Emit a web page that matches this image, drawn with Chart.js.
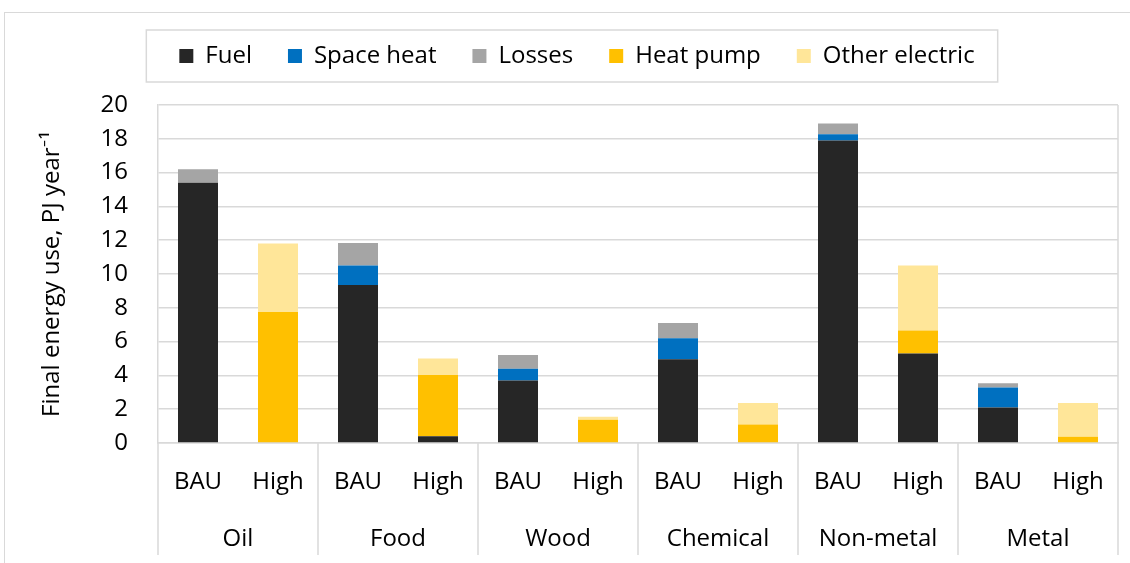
<!DOCTYPE html>
<html>
<head>
<meta charset="utf-8">
<script src="https://cdn.jsdelivr.net/npm/chart.js@4"></script>
<style>
html, body { margin: 0; padding: 0; background: #fff; }
#frame { position: absolute; left: 4px; top: 12px; width: 1140px; height: 570px; border-top: 1.5px solid #d9d9d9; border-left: 1.5px solid #d9d9d9; }
#wrap { position: absolute; left: 0; top: 0; width: 1130px; height: 563px; }
</style>
</head>
<body>
<div id="frame"></div>
<div id="wrap"><canvas id="energyChart"></canvas></div>
<script>
// data (PJ / year)
const sectors = ['Oil', 'Food', 'Wood', 'Chemical', 'Non-metal', 'Metal'];
const scenarios = ['BAU', 'High'];
const fuel          = [15.4, 0,    9.35, 0.4,  3.7, 0,    4.95, 0,    17.9, 5.3,  2.1,  0];
const spaceHeat     = [0,    0,    1.15, 0,    0.7, 0,    1.25, 0,    0.37, 0,    1.18, 0];
const losses        = [0.8,  0,    1.33, 0,    0.8, 0,    0.9,  0,    0.63, 0,    0.25, 0];
const heatPump      = [0,    7.75, 0,    3.62, 0,   1.38, 0,    1.1,  0,    1.35, 0,    0.37];
const otherElectric = [0,    4.05, 0,    0.98, 0,   0.17, 0,    1.26, 0,    3.85, 0,    2.0];
const yMax = 20;
const yStep = 2;

const labels = sectors.flatMap(() => scenarios);
const font = '"Open Sans", Lato, sans-serif';
const fontSize = 24;
const gridColor = '#d9d9d9';

// second row of category labels + separators, and the box round the legend
const groupAxis = {
    id: 'groupAxis',
    beforeLayout(chart) {
        // extra room under the legend row
        const lg = chart.legend;
        if (lg && !lg._padded) {
            const fit = lg.fit.bind(lg);
            lg.fit = function () { fit(); this.height += 27; };
            lg._padded = true;
        }
    },
    afterDraw(chart) {
        const { ctx, chartArea, scales: { x } } = chart;
        const half = (x.getPixelForValue(1) - x.getPixelForValue(0)) / 2;
        ctx.save();
        ctx.strokeStyle = gridColor;
        ctx.lineWidth = 1.5;
        ctx.beginPath();
        ctx.moveTo(chartArea.right, chartArea.top);
        ctx.lineTo(chartArea.right, chartArea.bottom);
        ctx.stroke();

        ctx.fillStyle = '#000';
        ctx.font = fontSize + 'px ' + font;
        ctx.textAlign = 'center';
        ctx.textBaseline = 'middle';
        sectors.forEach((name, i) => {
            const left = x.getPixelForValue(i * 2) - half;
            const right = x.getPixelForValue(i * 2 + 1) + half;
            ctx.beginPath();
            ctx.moveTo(left, chartArea.bottom);
            ctx.lineTo(left, chartArea.bottom + 112);
            ctx.stroke();
            if (i === sectors.length - 1) {
                ctx.beginPath();
                ctx.moveTo(right, chartArea.bottom);
                ctx.lineTo(right, chartArea.bottom + 112);
                ctx.stroke();
            }
            ctx.fillText(name, (left + right) / 2, chartArea.bottom + 96);
        });

        const boxes = chart.legend.legendHitBoxes;
        if (boxes && boxes.length) {
            const first = boxes[0];
            const last = boxes[boxes.length - 1];
            const bx = first.left - 33;
            const bw = last.left + last.width + 23 - bx;
            const by = first.top + first.height / 2 - 26;
            ctx.strokeRect(bx, by, bw, 52);
        }
        ctx.restore();
    }
};

const ctx = document.getElementById('energyChart');
new Chart(ctx, {
    type: 'bar',
    data: {
        labels: labels,
        datasets: [
            { label: 'Fuel', data: fuel, backgroundColor: '#262626' },
            { label: 'Space heat', data: spaceHeat, backgroundColor: '#0070c0' },
            { label: 'Losses', data: losses, backgroundColor: '#a5a5a5' },
            { label: 'Heat pump', data: heatPump, backgroundColor: '#ffc000' },
            { label: 'Other electric', data: otherElectric, backgroundColor: '#ffe699' }
        ]
    },
    options: {
        responsive: true,
        maintainAspectRatio: false,
        animation: false,
        layout: { padding: { left: 36, right: 12, top: 8, bottom: 8 } },
        datasets: { bar: { barPercentage: 0.5, categoryPercentage: 1, borderWidth: 0 } },
        plugins: {
            legend: {
                position: 'top',
                labels: {
                    boxWidth: 14,
                    boxHeight: 14,
                    padding: 36,
                    color: '#000',
                    font: { family: font, size: fontSize }
                }
            },
            tooltip: { enabled: false }
        },
        scales: {
            x: {
                stacked: true,
                grid: { display: false, drawTicks: false },
                border: { color: gridColor, width: 1.5 },
                ticks: { color: '#000', padding: 25, font: { family: font, size: fontSize } },
                afterFit: (scale) => { scale.height = 112; }
            },
            y: {
                stacked: true,
                min: 0,
                max: yMax,
                ticks: { stepSize: yStep, color: '#000', padding: 30, font: { family: font, size: fontSize } },
                grid: { color: gridColor, lineWidth: 1.5, drawTicks: false },
                border: { color: gridColor, width: 1.5 },
                title: {
                    display: true,
                    text: 'Final energy use, PJ year⁻¹',
                    color: '#000',
                    padding: { top: 2, bottom: 0 },
                    font: { family: font, size: fontSize }
                },
                afterFit: (scale) => { scale.width = 122; }
            }
        }
    },
    plugins: [groupAxis]
});
</script>
</body>
</html>
